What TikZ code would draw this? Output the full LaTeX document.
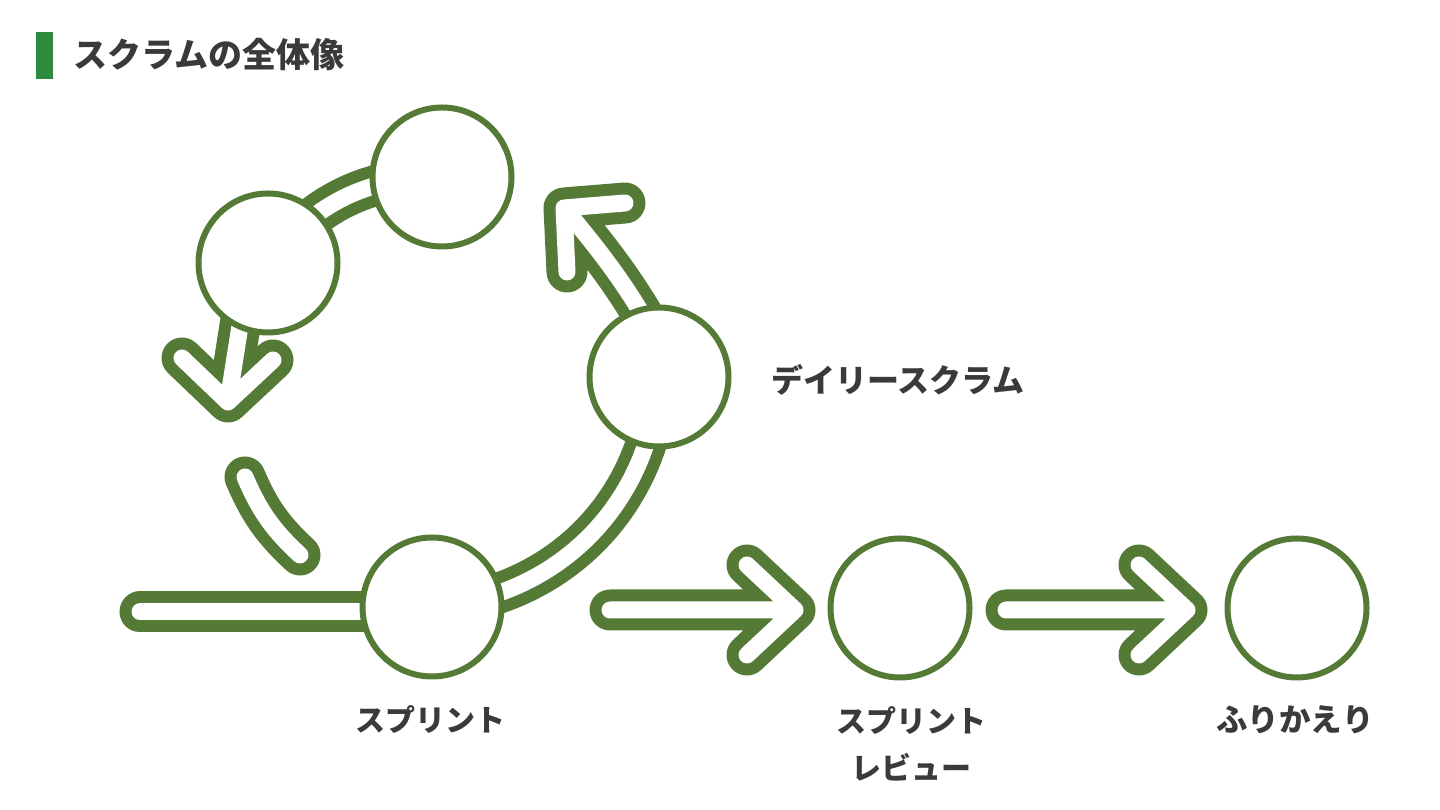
\documentclass[tikz,border=0pt]{standalone}
\usepackage{fontspec}
\newfontfamily\jp{Noto Sans CJK JP}
\definecolor{gr}{HTML}{547A36}
\definecolor{barg}{HTML}{2E8B3E}
\definecolor{tx}{HTML}{3A3A3A}
\tikzset{
  band/.style={draw=gr, line width=12pt, double=white, double distance=17pt, line cap=round, line join=round},
  ring/.style={circle, draw=gr, line width=6pt, fill=white, minimum size=139pt, inner sep=0pt},
  lbl/.style={text=tx, inner sep=0pt, font=\jp\bfseries\fontsize{30}{47}\selectfont, align=center}
}
\begin{document}
\begin{tikzpicture}[x=1pt,y=1pt]
\useasboundingbox (0,0) rectangle (1440,810);
\fill[white] (0,0) rectangle (1440,810);
% title
\fill[barg] (36,731) rectangle (53,778);
\node[anchor=west, text=tx, inner sep=0pt, font=\jp\bfseries\fontsize{34}{40}\selectfont] (title) at (73,755) {スクラムの全体像};
% circle positions
\coordinate (p1) at (442,633);
\coordinate (p2) at (268,547);
\coordinate (p3) at (659,433);
\coordinate (p4) at (432,203);
\coordinate (p5) at (900,202);
\coordinate (p6) at (1297,202);
% free ends
\coordinate (lb) at (140,198);
\coordinate (a1s) at (610,200);
\coordinate (a1t) at (795,200);
\coordinate (a1u) at (747,245);
\coordinate (a1d) at (747,155);
\coordinate (a2s) at (1006,200);
\coordinate (a2t) at (1187,200);
\coordinate (a2u) at (1139,245);
\coordinate (a2d) at (1139,155);
\coordinate (s3) at (668,450);
\coordinate (t3) at (564,602);
\coordinate (b3a) at (625,607);
\coordinate (b3b) at (567,538);
\coordinate (s2) at (248,535);
\coordinate (t2) at (228,408);
\coordinate (b2a) at (182,452);
\coordinate (b2b) at (273,450);
\coordinate (d1) at (245,333);
\coordinate (d2) at (300,255);
% bands and arrows
\draw[band] (lb) -- (lb -| p4);
\draw[band] (p4) to[bend right=41] (p3);
\draw[band] (s3) to[out=118,in=-50] (t3) (b3a) -- (t3) -- (b3b);
\draw[band] (p2) to[bend left=26] (p1);
\draw[band] (s2) -- (t2) (b2a) -- (t2) -- (b2b);
\draw[band] (d1) to[bend right=12] (d2);
\draw[band] (a1s) -- (a1t) (a1u) -- (a1t) -- (a1d);
\draw[band] (a2s) -- (a2t) (a2u) -- (a2t) -- (a2d);
% circles
\node[ring] (c1) at (p1) {};
\node[ring] (c2) at (p2) {};
\node[ring] (c3) at (p3) {};
\node[ring] (c4) at (p4) {};
\node[ring] (c5) at (p5) {};
\node[ring] (c6) at (p6) {};
% labels
\node[lbl, anchor=west, font=\jp\bfseries\fontsize{32}{40}\selectfont] (ldaily) at (771,430) {デイリースクラム};
\node[lbl] (lsprint) at (430,90) {スプリント};
\node[lbl] (lreview) at (911,66) {スプリント\\レビュー};
\node[lbl, font=\jp\bfseries\fontsize{31.5}{40}\selectfont] (lretro) at (1295,90) {ふりかえり};
\end{tikzpicture}
\end{document}
